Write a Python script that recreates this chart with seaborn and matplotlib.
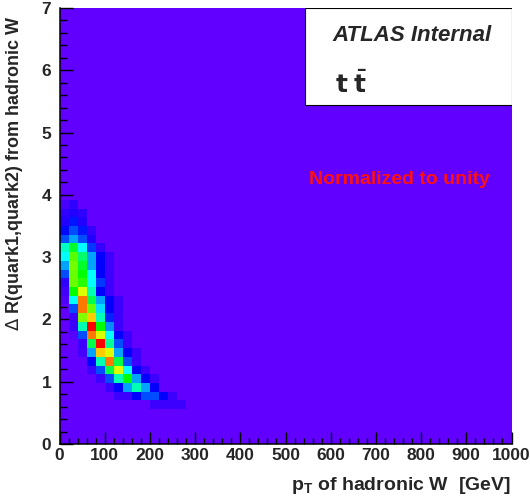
import numpy as np
import pandas as pd
import seaborn as sns
import matplotlib.pyplot as plt
from matplotlib.colors import LinearSegmentedColormap
from matplotlib.patches import Rectangle

# bin centres of the filled part of the 2D histogram (20 GeV x 0.14 bins)
pt_centers = [10, 30, 50, 70, 90, 110, 130, 150, 170, 190, 210, 230, 250, 270]
dr_centers = [3.85, 3.71, 3.57, 3.43, 3.29, 3.15, 3.01, 2.87, 2.73, 2.59, 2.45, 2.31,
              2.17, 2.03, 1.89, 1.75, 1.61, 1.47, 1.33, 1.19, 1.05, 0.91, 0.77, 0.63]

# normalised bin contents, one row per dR bin (top to bottom), one entry per pT bin
density = [
    [0.04, 0.08],
    [0.08, 0.10, 0.08],
    [0.10, 0.17, 0.10],
    [0.16, 0.22, 0.17, 0.07],
    [0.22, 0.30, 0.22, 0.10],
    [0.42, 0.52, 0.38, 0.20, 0.07],
    [0.38, 0.62, 0.48, 0.30, 0.15, 0.06],
    [0.30, 0.64, 0.52, 0.30, 0.15, 0.06],
    [0.22, 0.63, 0.55, 0.38, 0.15, 0.06],
    [0.08, 0.63, 0.58, 0.38, 0.20, 0.06],
    [0.05, 0.55, 0.72, 0.43, 0.15, 0.06],
    [0.03, 0.38, 0.88, 0.50, 0.30, 0.15, 0.06],
    [0.00, 0.22, 0.88, 0.63, 0.35, 0.15, 0.06],
    [0.00, 0.06, 0.65, 0.80, 0.43, 0.18, 0.06],
    [0.00, 0.06, 0.43, 1.00, 0.55, 0.28, 0.06],
    [0.00, 0.02, 0.22, 0.88, 0.72, 0.38, 0.15, 0.06],
    [0.00, 0.00, 0.06, 0.50, 1.00, 0.45, 0.22, 0.06],
    [0.00, 0.00, 0.05, 0.30, 0.80, 0.72, 0.30, 0.15, 0.06],
    [0.00, 0.00, 0.00, 0.15, 0.43, 0.88, 0.50, 0.22, 0.06],
    [0.00, 0.00, 0.00, 0.06, 0.22, 0.50, 0.72, 0.38, 0.15, 0.06],
    [0.00, 0.00, 0.00, 0.00, 0.06, 0.22, 0.43, 0.55, 0.30, 0.15, 0.06],
    [0.00, 0.00, 0.00, 0.00, 0.00, 0.06, 0.15, 0.30, 0.43, 0.30, 0.15],
    [0.00, 0.00, 0.00, 0.00, 0.00, 0.00, 0.06, 0.06, 0.15, 0.22, 0.22, 0.15, 0.06],
    [0.00, 0.00, 0.00, 0.00, 0.00, 0.00, 0.00, 0.00, 0.00, 0.00, 0.06, 0.06, 0.06, 0.06],
]

rows = []
for dr, row in zip(dr_centers, density):
    for pt, w in zip(pt_centers, row):
        rows.append({"pt": pt, "dr": dr, "w": w})
df = pd.DataFrame(rows)

# ROOT style rainbow palette
root_cmap = LinearSegmentedColormap.from_list(
    "root_rainbow",
    [(0.0, (0.38, 0.0, 1.0)), (0.15, (0.0, 0.0, 1.0)), (0.38, (0.0, 1.0, 1.0)),
     (0.55, (0.0, 1.0, 0.0)), (0.75, (1.0, 1.0, 0.0)), (1.0, (1.0, 0.0, 0.0))])

sns.set_style("ticks")
plt.rcParams["font.family"] = ["Liberation Sans", "DejaVu Sans"]
plt.rcParams["mathtext.fontset"] = "dejavusans"

fig = plt.figure(figsize=(5.30, 5.01), dpi=100)
ax = fig.add_axes([0.1123, 0.1138, 0.8528, 0.8703])
ax.set_facecolor(root_cmap(0.0))

sns.histplot(data=df, x="pt", y="dr", weights="w",
             bins=(np.linspace(0, 1000, 51), np.linspace(0, 7, 51)),
             cmap=root_cmap, vmin=0, vmax=1, ax=ax)

ax.set_xlim(0, 1000)
ax.set_ylim(0, 7)
xt = np.arange(0, 1001, 100)
yt = np.arange(0, 8, 1)
ax.set_xticks(xt, labels=[str(v) for v in xt], fontweight="bold", fontsize=12.5)
ax.set_yticks(yt, labels=[str(v) for v in yt], fontweight="bold", fontsize=12.5)
ax.set_xticks(np.arange(0, 1001, 20), minor=True)
ax.set_yticks(np.arange(0, 7.01, 0.2), minor=True)
ax.tick_params(which="both", direction="in", top=False, right=False, color="black", width=1.0)
ax.tick_params(axis="x", which="major", length=8.5, pad=3)
ax.tick_params(axis="x", which="minor", length=4.3)
ax.tick_params(axis="y", which="major", length=9.5, pad=6)
ax.tick_params(axis="y", which="minor", length=4.8)

for side in ["top", "right"]:
    ax.spines[side].set_visible(False)
for side in ["left", "bottom"]:
    ax.spines[side].set_color("black")
    ax.spines[side].set_linewidth(1.1)

ax.set_xlabel(r"$\mathregular{p_T}$ of hadronic W  [GeV]", fontsize=14, fontweight="bold",
              ha="right", va="top")
ax.xaxis.set_label_coords(1.0, -0.07)
ax.set_ylabel(r"$\Delta$ R(quark1,quark2) from hadronic W", fontsize=13, fontweight="bold",
              ha="right", va="bottom")
ax.yaxis.set_label_coords(-0.077, 0.982)

# ATLAS label box
ax.add_patch(Rectangle((0.543, 0.778), 0.457, 0.222, transform=ax.transAxes,
                       facecolor="white", edgecolor="black", linewidth=0.8, zorder=5))
ax.text(0.78, 0.937, "ATLAS Internal", transform=ax.transAxes, fontsize=16,
        fontweight="bold", fontstyle="italic", ha="center", va="center", zorder=6)
ax.text(0.61, 0.825, r"$\mathbf{t\;\bar{t}}$", transform=ax.transAxes, fontsize=18,
        ha="left", va="center", zorder=6)
ax.text(0.753, 0.607, "Normalized to unity", transform=ax.transAxes, fontsize=14,
        fontweight="bold", color="#ff1010", ha="center", va="center", zorder=6)

fig.savefig("out.png", dpi=100)
